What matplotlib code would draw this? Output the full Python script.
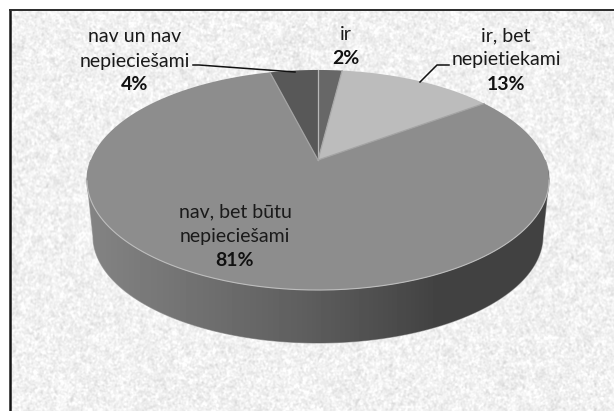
import numpy as np
import matplotlib
matplotlib.use('Agg')
import matplotlib.pyplot as plt
from matplotlib.patches import Polygon

# Dati
labels = ['ir', 'ir, bet\nnepietiekami', 'nav, bet būtu\nnepieciešami', 'nav un nav\nnepieciešami']
values = [2, 13, 81, 4]
slice_colors = ['#676767', '#bcbcbc', '#8d8d8d', '#585858']

# Virsotne un perspektiva (pikseļos)
cx, cy = 318, 160
rx, ry = 227.2, 106.4
persp = 0.1818


def disc(theta):
    # leņķis no augšas pulksteņrādītāja virzienā -> punkts uz diska
    u, v = np.sin(theta), np.cos(theta)
    d = 1 + persp * v
    return cx + rx * u / d, cy - ry * v / d


def smooth_noise(rng, shape, sigma):
    # gausa izpludināta trokšņa tekstūra fonam
    n = rng.standard_normal(shape)
    fy = np.fft.fftfreq(shape[0])[:, None]
    fx = np.fft.fftfreq(shape[1])[None, :]
    g = np.exp(-2 * (np.pi * sigma) ** 2 * (fx ** 2 + fy ** 2))
    s = np.fft.ifft2(np.fft.fft2(n) * g).real
    return s / s.std()


fig = plt.figure(figsize=(6.14, 4.11), dpi=100, facecolor='white')
ax = fig.add_axes([0, 0, 1, 1])

# Fona tekstūra
rng = np.random.default_rng(7)
shape = (401, 604)
tex = 0.945 + 0.026 * smooth_noise(rng, shape, 0.8) + 0.008 * smooth_noise(rng, shape, 2.5)
ax.imshow(np.clip(tex, 0.78, 1.0), cmap='gray', vmin=0, vmax=1,
          extent=(10, 614, 411, 10), interpolation='bilinear', aspect='auto', zorder=0)

# Rāmis
ax.plot([10, 10], [411, 10], color='#151515', lw=1.8, zorder=1, solid_capstyle='butt')
ax.plot([9, 614], [10.5, 10.5], color='#2a2a2a', lw=1.4, zorder=1, solid_capstyle='butt')

# Sānu siena ar gradientu
t = np.linspace(np.pi / 2, 3 * np.pi / 2, 200)
top_x, top_y = disc(t)
bot_x = 318 + 225 * np.sin(t)
bot_y = 236 - 107 * np.cos(t)
wall_x = np.concatenate([[549], bot_x, [87], top_x[::-1]])
wall_y = np.concatenate([[180], bot_y, [180], top_y[::-1]])
wall = Polygon(np.column_stack([wall_x, wall_y]), closed=True, facecolor='none',
               edgecolor='#a8a8a8', lw=0.8, zorder=2)
ax.add_patch(wall)
grad_x = np.arange(85, 552)
grad = np.interp(grad_x, [85, 200, 300, 400, 440, 552], [0x84, 0x70, 0x5f, 0x4a, 0x41, 0x41]) / 255
im = ax.imshow(grad[None, :], cmap='gray', vmin=0, vmax=1, extent=(85, 552, 345, 170),
               aspect='auto', zorder=2)
im.set_clip_path(wall)

# Sektori no vērtībām
edges = np.cumsum([0] + values) / sum(values) * 2 * np.pi
for i, col in enumerate(slice_colors):
    th = np.linspace(edges[i], edges[i + 1], 200)
    x, y = disc(th)
    ax.fill(np.r_[cx, x], np.r_[cy, y], color=col, lw=0, zorder=3)

# Gaišās malas
edge_x, edge_y = disc(np.linspace(edges[1], edges[3], 400))
low = edge_y > 180
ax.plot(edge_x[low], edge_y[low], color='#bdbdbd', lw=0.8, zorder=4)
for e, col in zip(edges[:-1], ['#b8b8b8', '#a8a8a8', '#a4a4a4', '#a4a4a4']):
    x, y = disc(e)
    ax.plot([cx, x], [cy, y], color=col, lw=0.9, zorder=4)

# Līnijas uz uzrakstiem
ax.plot([193, 199, 295], [65, 65, 72], color='#111111', lw=1.1, zorder=5)
ax.plot([420, 437, 449], [82, 65, 65], color='#111111', lw=1.1, zorder=5)

# Uzraksti
label_pos = [(346, 35), (506, 36), (235, 212), (135, 37)]
font = 'Lato'
for lab, val, (lx, ly) in zip(labels, values, label_pos):
    lines = lab.split('\n')
    for k, line in enumerate(lines):
        ax.text(lx, ly + 24 * k, line, ha='center', va='center', family=font,
                fontsize=14, color='#1a1a1a', zorder=6)
    ax.text(lx, ly + 24 * len(lines), f'{val}%', ha='center', va='center', family=font,
            fontsize=14, fontweight='bold', color='#111111', zorder=6)

ax.set_xlim(0, 614)
ax.set_ylim(411, 0)
ax.axis('off')

plt.savefig('out.png', dpi=100)
